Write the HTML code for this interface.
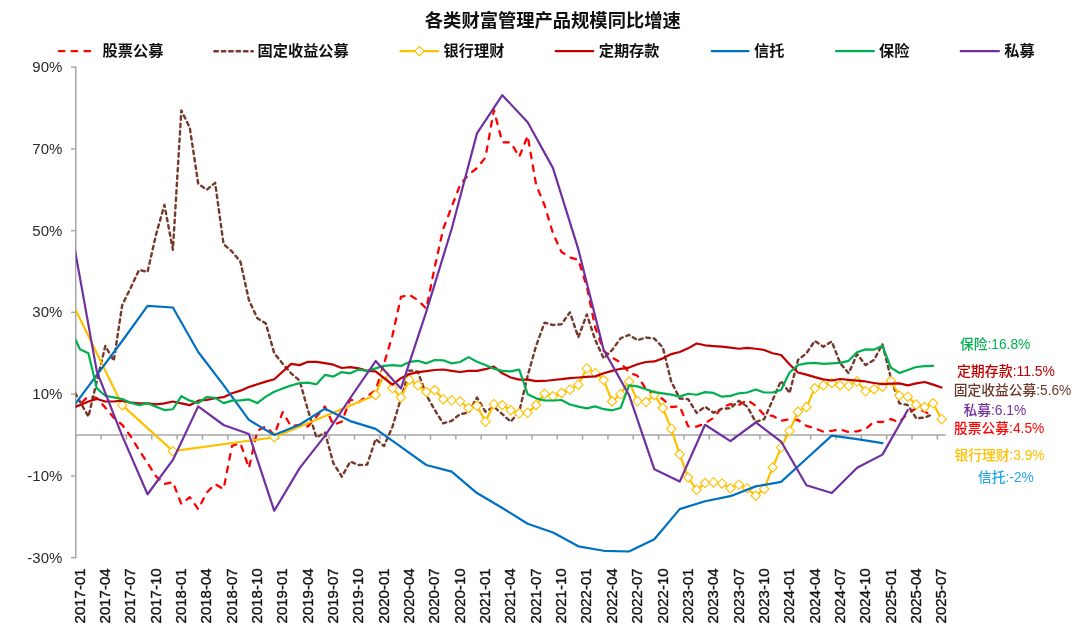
<!DOCTYPE html>
<html lang="zh"><head><meta charset="utf-8"><title>各类财富管理产品规模同比增速</title>
<style>
html,body{margin:0;padding:0;background:#fff;}
body{width:1080px;height:642px;overflow:hidden;position:relative;font-family:"Liberation Sans","Noto Sans CJK SC",sans-serif;}
svg{position:absolute;left:0;top:0;display:block;}
text{font-family:"Liberation Sans","Noto Sans CJK SC",sans-serif;}
.title{font-size:18.3px;font-weight:bold;fill:#111;}
.lg{font-size:15.2px;font-weight:bold;fill:#111;}
.ax{font-size:15px;fill:#111;stroke:#111;stroke-width:0.35px;}
.ay{font-size:15px;fill:#2b2b2b;}
.lb{font-size:13.75px;font-weight:500;}
.s{fill:none;stroke-linejoin:round;stroke-linecap:round;}
</style></head><body>
<svg width="1080" height="642" viewBox="0 0 1080 642">
<rect x="0" y="0" width="1080" height="642" fill="#ffffff"/>
<defs><clipPath id="plot"><rect x="75.75" y="60" width="872.04" height="505"/></clipPath></defs>
<text class="title" x="552.8" y="27.2" text-anchor="middle">各类财富管理产品规模同比增速</text>
<g stroke="#a6a6a6" stroke-width="1.5" fill="none">
<line x1="75.75" y1="66.57" x2="75.75" y2="558.21"/>
<line x1="75.75" y1="435.00" x2="945.79" y2="435.00"/>
<line x1="71.05" y1="557.61" x2="75.75" y2="557.61"/>
<line x1="71.05" y1="475.87" x2="75.75" y2="475.87"/>
<line x1="71.05" y1="394.13" x2="75.75" y2="394.13"/>
<line x1="71.05" y1="312.39" x2="75.75" y2="312.39"/>
<line x1="71.05" y1="230.65" x2="75.75" y2="230.65"/>
<line x1="71.05" y1="148.91" x2="75.75" y2="148.91"/>
<line x1="71.05" y1="67.17" x2="75.75" y2="67.17"/>
<line x1="75.75" y1="435.00" x2="75.75" y2="439.60"/>
<line x1="101.09" y1="435.00" x2="101.09" y2="439.60"/>
<line x1="126.43" y1="435.00" x2="126.43" y2="439.60"/>
<line x1="151.77" y1="435.00" x2="151.77" y2="439.60"/>
<line x1="177.11" y1="435.00" x2="177.11" y2="439.60"/>
<line x1="202.45" y1="435.00" x2="202.45" y2="439.60"/>
<line x1="227.80" y1="435.00" x2="227.80" y2="439.60"/>
<line x1="253.14" y1="435.00" x2="253.14" y2="439.60"/>
<line x1="278.48" y1="435.00" x2="278.48" y2="439.60"/>
<line x1="303.82" y1="435.00" x2="303.82" y2="439.60"/>
<line x1="329.16" y1="435.00" x2="329.16" y2="439.60"/>
<line x1="354.50" y1="435.00" x2="354.50" y2="439.60"/>
<line x1="379.84" y1="435.00" x2="379.84" y2="439.60"/>
<line x1="405.18" y1="435.00" x2="405.18" y2="439.60"/>
<line x1="430.52" y1="435.00" x2="430.52" y2="439.60"/>
<line x1="455.86" y1="435.00" x2="455.86" y2="439.60"/>
<line x1="481.21" y1="435.00" x2="481.21" y2="439.60"/>
<line x1="506.55" y1="435.00" x2="506.55" y2="439.60"/>
<line x1="531.89" y1="435.00" x2="531.89" y2="439.60"/>
<line x1="557.23" y1="435.00" x2="557.23" y2="439.60"/>
<line x1="582.57" y1="435.00" x2="582.57" y2="439.60"/>
<line x1="607.91" y1="435.00" x2="607.91" y2="439.60"/>
<line x1="633.25" y1="435.00" x2="633.25" y2="439.60"/>
<line x1="658.59" y1="435.00" x2="658.59" y2="439.60"/>
<line x1="683.93" y1="435.00" x2="683.93" y2="439.60"/>
<line x1="709.27" y1="435.00" x2="709.27" y2="439.60"/>
<line x1="734.62" y1="435.00" x2="734.62" y2="439.60"/>
<line x1="759.96" y1="435.00" x2="759.96" y2="439.60"/>
<line x1="785.30" y1="435.00" x2="785.30" y2="439.60"/>
<line x1="810.64" y1="435.00" x2="810.64" y2="439.60"/>
<line x1="835.98" y1="435.00" x2="835.98" y2="439.60"/>
<line x1="861.32" y1="435.00" x2="861.32" y2="439.60"/>
<line x1="886.66" y1="435.00" x2="886.66" y2="439.60"/>
<line x1="912.00" y1="435.00" x2="912.00" y2="439.60"/>
<line x1="937.34" y1="435.00" x2="937.34" y2="439.60"/>
</g>
<text class="ay" x="62.4" y="562.61" text-anchor="end">-30%</text>
<text class="ay" x="62.4" y="480.87" text-anchor="end">-10%</text>
<text class="ay" x="62.4" y="399.13" text-anchor="end">10%</text>
<text class="ay" x="62.4" y="317.39" text-anchor="end">30%</text>
<text class="ay" x="62.4" y="235.65" text-anchor="end">50%</text>
<text class="ay" x="62.4" y="153.91" text-anchor="end">70%</text>
<text class="ay" x="62.4" y="72.17" text-anchor="end">90%</text>
<text class="ax" transform="translate(84.67 568.4) rotate(-90)" text-anchor="end">2017-01</text>
<text class="ax" transform="translate(110.01 568.4) rotate(-90)" text-anchor="end">2017-04</text>
<text class="ax" transform="translate(135.36 568.4) rotate(-90)" text-anchor="end">2017-07</text>
<text class="ax" transform="translate(160.70 568.4) rotate(-90)" text-anchor="end">2017-10</text>
<text class="ax" transform="translate(186.04 568.4) rotate(-90)" text-anchor="end">2018-01</text>
<text class="ax" transform="translate(211.38 568.4) rotate(-90)" text-anchor="end">2018-04</text>
<text class="ax" transform="translate(236.72 568.4) rotate(-90)" text-anchor="end">2018-07</text>
<text class="ax" transform="translate(262.06 568.4) rotate(-90)" text-anchor="end">2018-10</text>
<text class="ax" transform="translate(287.40 568.4) rotate(-90)" text-anchor="end">2019-01</text>
<text class="ax" transform="translate(312.74 568.4) rotate(-90)" text-anchor="end">2019-04</text>
<text class="ax" transform="translate(338.08 568.4) rotate(-90)" text-anchor="end">2019-07</text>
<text class="ax" transform="translate(363.42 568.4) rotate(-90)" text-anchor="end">2019-10</text>
<text class="ax" transform="translate(388.77 568.4) rotate(-90)" text-anchor="end">2020-01</text>
<text class="ax" transform="translate(414.11 568.4) rotate(-90)" text-anchor="end">2020-04</text>
<text class="ax" transform="translate(439.45 568.4) rotate(-90)" text-anchor="end">2020-07</text>
<text class="ax" transform="translate(464.79 568.4) rotate(-90)" text-anchor="end">2020-10</text>
<text class="ax" transform="translate(490.13 568.4) rotate(-90)" text-anchor="end">2021-01</text>
<text class="ax" transform="translate(515.47 568.4) rotate(-90)" text-anchor="end">2021-04</text>
<text class="ax" transform="translate(540.81 568.4) rotate(-90)" text-anchor="end">2021-07</text>
<text class="ax" transform="translate(566.15 568.4) rotate(-90)" text-anchor="end">2021-10</text>
<text class="ax" transform="translate(591.49 568.4) rotate(-90)" text-anchor="end">2022-01</text>
<text class="ax" transform="translate(616.83 568.4) rotate(-90)" text-anchor="end">2022-04</text>
<text class="ax" transform="translate(642.18 568.4) rotate(-90)" text-anchor="end">2022-07</text>
<text class="ax" transform="translate(667.52 568.4) rotate(-90)" text-anchor="end">2022-10</text>
<text class="ax" transform="translate(692.86 568.4) rotate(-90)" text-anchor="end">2023-01</text>
<text class="ax" transform="translate(718.20 568.4) rotate(-90)" text-anchor="end">2023-04</text>
<text class="ax" transform="translate(743.54 568.4) rotate(-90)" text-anchor="end">2023-07</text>
<text class="ax" transform="translate(768.88 568.4) rotate(-90)" text-anchor="end">2023-10</text>
<text class="ax" transform="translate(794.22 568.4) rotate(-90)" text-anchor="end">2024-01</text>
<text class="ax" transform="translate(819.56 568.4) rotate(-90)" text-anchor="end">2024-04</text>
<text class="ax" transform="translate(844.90 568.4) rotate(-90)" text-anchor="end">2024-07</text>
<text class="ax" transform="translate(870.24 568.4) rotate(-90)" text-anchor="end">2024-10</text>
<text class="ax" transform="translate(895.59 568.4) rotate(-90)" text-anchor="end">2025-01</text>
<text class="ax" transform="translate(920.93 568.4) rotate(-90)" text-anchor="end">2025-04</text>
<text class="ax" transform="translate(946.27 568.4) rotate(-90)" text-anchor="end">2025-07</text>
<g clip-path="url(#plot)">
<path class="s" d="M71.53 409.25 L79.97 404.35 L88.42 396.17 L96.87 398.22 L105.31 407.62 L113.76 417.83 L122.21 424.78 L130.66 436.23 L139.10 450.12 L147.55 463.00 L156.00 476.28 L164.44 484.04 L172.89 482.00 L181.34 504.07 L189.78 497.12 L198.23 509.18 L206.68 492.63 L215.13 484.04 L223.57 489.15 L232.02 445.83 L240.47 443.17 L248.91 468.10 L257.36 430.71 L265.81 426.42 L274.25 435.00 L282.70 412.11 L291.15 426.42 L299.60 424.78 L308.04 426.42 L316.49 416.61 L324.94 406.39 L333.38 424.99 L341.83 421.51 L350.28 399.44 L358.72 402.30 L367.17 396.17 L375.62 390.45 L384.07 363.48 L392.51 335.28 L400.96 296.86 L409.41 294.82 L417.85 300.13 L426.30 308.71 L434.75 267.02 L443.19 229.02 L451.64 206.95 L460.09 184.88 L468.54 174.66 L476.98 168.12 L485.43 157.49 L493.88 110.08 L502.32 142.37 L510.77 142.37 L519.22 156.88 L527.66 135.83 L536.11 184.88 L544.56 205.31 L553.01 233.51 L561.45 251.90 L569.90 257.42 L578.35 259.87 L586.79 286.64 L595.24 327.51 L603.69 350.81 L612.13 357.51 L620.58 362.50 L629.03 372.47 L637.48 375.74 L645.92 389.23 L654.37 394.13 L662.82 399.16 L671.26 407.00 L679.71 406.39 L688.16 426.34 L696.60 426.66 L705.05 423.35 L713.50 417.83 L721.95 407.49 L730.39 404.18 L738.84 405.00 L747.29 400.02 L755.73 405.82 L764.18 414.97 L772.63 415.79 L781.07 420.82 L789.52 419.18 L797.97 420.00 L806.42 425.85 L814.86 428.34 L823.31 431.65 L831.76 430.83 L840.20 429.48 L848.65 432.02 L857.10 431.32 L865.54 429.16 L873.99 421.68 L882.44 422.00 L890.89 419.18 L899.33 422.17 L907.78 413.34 L916.23 408.31 L924.67 411.70 L933.12 415.79" stroke="#ff0000" stroke-width="2.3" stroke-dasharray="5.5 7.3" stroke-linecap="round"/>
<path class="s" d="M71.53 386.57 L79.97 401.69 L88.42 416.61 L96.87 381.05 L105.31 345.90 L113.76 360.82 L122.21 305.03 L130.66 287.87 L139.10 269.89 L147.55 271.93 L156.00 234.74 L164.44 204.90 L172.89 249.86 L181.34 110.49 L189.78 127.66 L198.23 183.65 L206.68 189.78 L215.13 182.83 L223.57 244.14 L232.02 251.49 L240.47 261.71 L248.91 300.13 L257.36 318.32 L265.81 323.42 L274.25 353.26 L282.70 363.68 L291.15 373.29 L299.60 380.64 L308.04 410.48 L316.49 437.45 L324.94 432.55 L333.38 463.20 L341.83 476.69 L350.28 461.57 L358.72 465.04 L367.17 464.63 L375.62 439.09 L384.07 446.03 L392.51 426.66 L400.96 398.34 L409.41 370.34 L417.85 371.65 L426.30 394.99 L434.75 409.99 L443.19 423.35 L451.64 420.82 L460.09 414.16 L468.54 412.52 L476.98 397.48 L485.43 411.66 L493.88 406.68 L502.32 414.16 L510.77 421.68 L519.22 411.66 L527.66 375.82 L536.11 345.82 L544.56 322.61 L553.01 325.06 L561.45 324.24 L569.90 312.39 L578.35 337.32 L586.79 314.43 L595.24 339.98 L603.69 358.37 L612.13 349.99 L620.58 338.34 L629.03 334.87 L637.48 340.18 L645.92 337.53 L654.37 338.55 L662.82 347.54 L671.26 381.66 L679.71 398.50 L688.16 399.16 L696.60 412.93 L705.05 406.60 L713.50 412.73 L721.95 408.68 L730.39 408.31 L738.84 400.83 L747.29 406.68 L755.73 422.00 L764.18 419.18 L772.63 400.02 L781.07 380.85 L789.52 392.99 L797.97 360.00 L806.42 353.26 L814.86 340.84 L823.31 346.72 L831.76 341.49 L840.20 363.27 L848.65 373.20 L857.10 354.16 L865.54 365.11 L873.99 360.00 L882.44 344.15 L890.89 378.19 L899.33 403.33 L907.78 405.00 L916.23 418.33 L924.67 417.51 L933.12 414.16" stroke="#753a2b" stroke-width="2.4" stroke-dasharray="3.5 3.9" stroke-linecap="round"/>
<path class="s" d="M71.53 301.36 L122.21 405.16 L172.89 451.18 L274.25 437.25 L375.62 394.95 L384.07 373.69 L392.51 388.33 L400.96 397.48 L409.41 379.66 L417.85 385.34 L426.30 392.00 L434.75 390.04 L443.19 399.16 L451.64 400.34 L460.09 401.32 L468.54 408.03 L476.98 405.82 L485.43 421.68 L493.88 404.18 L502.32 405.00 L510.77 410.31 L519.22 413.34 L527.66 412.85 L536.11 405.00 L544.56 393.72 L553.01 396.34 L561.45 392.90 L569.90 389.63 L578.35 384.73 L586.79 368.38 L595.24 372.88 L603.69 380.03 L612.13 401.49 L620.58 394.13 L629.03 381.46 L637.48 401.08 L645.92 402.10 L654.37 394.95 L662.82 408.03 L671.26 428.67 L679.71 454.33 L688.16 477.50 L696.60 489.77 L705.05 483.02 L713.50 482.41 L721.95 483.47 L730.39 488.38 L738.84 484.62 L747.29 488.38 L755.73 495.73 L764.18 488.95 L772.63 467.45 L781.07 447.38 L789.52 430.91 L797.97 411.70 L806.42 407.00 L814.86 388.33 L823.31 385.34 L831.76 383.01 L840.20 385.26 L848.65 385.87 L857.10 381.34 L865.54 391.35 L873.99 389.23 L882.44 386.65 L890.89 380.85 L899.33 395.52 L907.78 396.66 L916.23 404.67 L924.67 407.21 L933.12 403.33 L941.57 419.18" stroke="#ffc000" stroke-width="2.2"/>
<path d="M122.21 400.46 L126.91 405.16 L122.21 409.86 L117.51 405.16 Z" fill="#fff" stroke="#ffc000" stroke-width="1.1"/>
<path d="M172.89 446.48 L177.59 451.18 L172.89 455.88 L168.19 451.18 Z" fill="#fff" stroke="#ffc000" stroke-width="1.1"/>
<path d="M274.25 432.55 L278.95 437.25 L274.25 441.95 L269.55 437.25 Z" fill="#fff" stroke="#ffc000" stroke-width="1.1"/>
<path d="M375.62 390.25 L380.32 394.95 L375.62 399.65 L370.92 394.95 Z" fill="#fff" stroke="#ffc000" stroke-width="1.1"/>
<path d="M384.07 369.00 L388.77 373.69 L384.07 378.39 L379.37 373.69 Z" fill="#fff" stroke="#ffc000" stroke-width="1.1"/>
<path d="M392.51 383.63 L397.21 388.33 L392.51 393.03 L387.81 388.33 Z" fill="#fff" stroke="#ffc000" stroke-width="1.1"/>
<path d="M400.96 392.78 L405.66 397.48 L400.96 402.18 L396.26 397.48 Z" fill="#fff" stroke="#ffc000" stroke-width="1.1"/>
<path d="M409.41 374.96 L414.11 379.66 L409.41 384.36 L404.71 379.66 Z" fill="#fff" stroke="#ffc000" stroke-width="1.1"/>
<path d="M417.85 380.64 L422.55 385.34 L417.85 390.04 L413.15 385.34 Z" fill="#fff" stroke="#ffc000" stroke-width="1.1"/>
<path d="M426.30 387.30 L431.00 392.00 L426.30 396.70 L421.60 392.00 Z" fill="#fff" stroke="#ffc000" stroke-width="1.1"/>
<path d="M434.75 385.34 L439.45 390.04 L434.75 394.74 L430.05 390.04 Z" fill="#fff" stroke="#ffc000" stroke-width="1.1"/>
<path d="M443.19 394.46 L447.89 399.16 L443.19 403.86 L438.49 399.16 Z" fill="#fff" stroke="#ffc000" stroke-width="1.1"/>
<path d="M451.64 395.64 L456.34 400.34 L451.64 405.04 L446.94 400.34 Z" fill="#fff" stroke="#ffc000" stroke-width="1.1"/>
<path d="M460.09 396.62 L464.79 401.32 L460.09 406.02 L455.39 401.32 Z" fill="#fff" stroke="#ffc000" stroke-width="1.1"/>
<path d="M468.54 403.33 L473.24 408.03 L468.54 412.73 L463.84 408.03 Z" fill="#fff" stroke="#ffc000" stroke-width="1.1"/>
<path d="M476.98 401.12 L481.68 405.82 L476.98 410.52 L472.28 405.82 Z" fill="#fff" stroke="#ffc000" stroke-width="1.1"/>
<path d="M485.43 416.98 L490.13 421.68 L485.43 426.38 L480.73 421.68 Z" fill="#fff" stroke="#ffc000" stroke-width="1.1"/>
<path d="M493.88 399.48 L498.58 404.18 L493.88 408.88 L489.18 404.18 Z" fill="#fff" stroke="#ffc000" stroke-width="1.1"/>
<path d="M502.32 400.30 L507.02 405.00 L502.32 409.70 L497.62 405.00 Z" fill="#fff" stroke="#ffc000" stroke-width="1.1"/>
<path d="M510.77 405.61 L515.47 410.31 L510.77 415.01 L506.07 410.31 Z" fill="#fff" stroke="#ffc000" stroke-width="1.1"/>
<path d="M519.22 408.64 L523.92 413.34 L519.22 418.04 L514.52 413.34 Z" fill="#fff" stroke="#ffc000" stroke-width="1.1"/>
<path d="M527.66 408.15 L532.36 412.85 L527.66 417.55 L522.96 412.85 Z" fill="#fff" stroke="#ffc000" stroke-width="1.1"/>
<path d="M536.11 400.30 L540.81 405.00 L536.11 409.70 L531.41 405.00 Z" fill="#fff" stroke="#ffc000" stroke-width="1.1"/>
<path d="M544.56 389.02 L549.26 393.72 L544.56 398.42 L539.86 393.72 Z" fill="#fff" stroke="#ffc000" stroke-width="1.1"/>
<path d="M553.01 391.64 L557.71 396.34 L553.01 401.04 L548.31 396.34 Z" fill="#fff" stroke="#ffc000" stroke-width="1.1"/>
<path d="M561.45 388.20 L566.15 392.90 L561.45 397.60 L556.75 392.90 Z" fill="#fff" stroke="#ffc000" stroke-width="1.1"/>
<path d="M569.90 384.93 L574.60 389.63 L569.90 394.33 L565.20 389.63 Z" fill="#fff" stroke="#ffc000" stroke-width="1.1"/>
<path d="M578.35 380.03 L583.05 384.73 L578.35 389.43 L573.65 384.73 Z" fill="#fff" stroke="#ffc000" stroke-width="1.1"/>
<path d="M586.79 363.68 L591.49 368.38 L586.79 373.08 L582.09 368.38 Z" fill="#fff" stroke="#ffc000" stroke-width="1.1"/>
<path d="M595.24 368.18 L599.94 372.88 L595.24 377.58 L590.54 372.88 Z" fill="#fff" stroke="#ffc000" stroke-width="1.1"/>
<path d="M603.69 375.33 L608.39 380.03 L603.69 384.73 L598.99 380.03 Z" fill="#fff" stroke="#ffc000" stroke-width="1.1"/>
<path d="M612.13 396.79 L616.83 401.49 L612.13 406.19 L607.43 401.49 Z" fill="#fff" stroke="#ffc000" stroke-width="1.1"/>
<path d="M620.58 389.43 L625.28 394.13 L620.58 398.83 L615.88 394.13 Z" fill="#fff" stroke="#ffc000" stroke-width="1.1"/>
<path d="M629.03 376.76 L633.73 381.46 L629.03 386.16 L624.33 381.46 Z" fill="#fff" stroke="#ffc000" stroke-width="1.1"/>
<path d="M637.48 396.38 L642.18 401.08 L637.48 405.78 L632.78 401.08 Z" fill="#fff" stroke="#ffc000" stroke-width="1.1"/>
<path d="M645.92 397.40 L650.62 402.10 L645.92 406.80 L641.22 402.10 Z" fill="#fff" stroke="#ffc000" stroke-width="1.1"/>
<path d="M654.37 390.25 L659.07 394.95 L654.37 399.65 L649.67 394.95 Z" fill="#fff" stroke="#ffc000" stroke-width="1.1"/>
<path d="M662.82 403.33 L667.52 408.03 L662.82 412.73 L658.12 408.03 Z" fill="#fff" stroke="#ffc000" stroke-width="1.1"/>
<path d="M671.26 423.97 L675.96 428.67 L671.26 433.37 L666.56 428.67 Z" fill="#fff" stroke="#ffc000" stroke-width="1.1"/>
<path d="M679.71 449.63 L684.41 454.33 L679.71 459.03 L675.01 454.33 Z" fill="#fff" stroke="#ffc000" stroke-width="1.1"/>
<path d="M688.16 472.80 L692.86 477.50 L688.16 482.20 L683.46 477.50 Z" fill="#fff" stroke="#ffc000" stroke-width="1.1"/>
<path d="M696.60 485.07 L701.30 489.77 L696.60 494.47 L691.90 489.77 Z" fill="#fff" stroke="#ffc000" stroke-width="1.1"/>
<path d="M705.05 478.32 L709.75 483.02 L705.05 487.72 L700.35 483.02 Z" fill="#fff" stroke="#ffc000" stroke-width="1.1"/>
<path d="M713.50 477.71 L718.20 482.41 L713.50 487.11 L708.80 482.41 Z" fill="#fff" stroke="#ffc000" stroke-width="1.1"/>
<path d="M721.95 478.77 L726.65 483.47 L721.95 488.17 L717.25 483.47 Z" fill="#fff" stroke="#ffc000" stroke-width="1.1"/>
<path d="M730.39 483.68 L735.09 488.38 L730.39 493.08 L725.69 488.38 Z" fill="#fff" stroke="#ffc000" stroke-width="1.1"/>
<path d="M738.84 479.92 L743.54 484.62 L738.84 489.32 L734.14 484.62 Z" fill="#fff" stroke="#ffc000" stroke-width="1.1"/>
<path d="M747.29 483.68 L751.99 488.38 L747.29 493.08 L742.59 488.38 Z" fill="#fff" stroke="#ffc000" stroke-width="1.1"/>
<path d="M755.73 491.03 L760.43 495.73 L755.73 500.43 L751.03 495.73 Z" fill="#fff" stroke="#ffc000" stroke-width="1.1"/>
<path d="M764.18 484.25 L768.88 488.95 L764.18 493.65 L759.48 488.95 Z" fill="#fff" stroke="#ffc000" stroke-width="1.1"/>
<path d="M772.63 462.75 L777.33 467.45 L772.63 472.15 L767.93 467.45 Z" fill="#fff" stroke="#ffc000" stroke-width="1.1"/>
<path d="M781.07 442.68 L785.77 447.38 L781.07 452.08 L776.37 447.38 Z" fill="#fff" stroke="#ffc000" stroke-width="1.1"/>
<path d="M789.52 426.21 L794.22 430.91 L789.52 435.61 L784.82 430.91 Z" fill="#fff" stroke="#ffc000" stroke-width="1.1"/>
<path d="M797.97 407.00 L802.67 411.70 L797.97 416.40 L793.27 411.70 Z" fill="#fff" stroke="#ffc000" stroke-width="1.1"/>
<path d="M806.42 402.30 L811.12 407.00 L806.42 411.70 L801.72 407.00 Z" fill="#fff" stroke="#ffc000" stroke-width="1.1"/>
<path d="M814.86 383.63 L819.56 388.33 L814.86 393.03 L810.16 388.33 Z" fill="#fff" stroke="#ffc000" stroke-width="1.1"/>
<path d="M823.31 380.64 L828.01 385.34 L823.31 390.04 L818.61 385.34 Z" fill="#fff" stroke="#ffc000" stroke-width="1.1"/>
<path d="M831.76 378.31 L836.46 383.01 L831.76 387.71 L827.06 383.01 Z" fill="#fff" stroke="#ffc000" stroke-width="1.1"/>
<path d="M840.20 380.56 L844.90 385.26 L840.20 389.96 L835.50 385.26 Z" fill="#fff" stroke="#ffc000" stroke-width="1.1"/>
<path d="M848.65 381.17 L853.35 385.87 L848.65 390.57 L843.95 385.87 Z" fill="#fff" stroke="#ffc000" stroke-width="1.1"/>
<path d="M857.10 376.64 L861.80 381.34 L857.10 386.04 L852.40 381.34 Z" fill="#fff" stroke="#ffc000" stroke-width="1.1"/>
<path d="M865.54 386.65 L870.24 391.35 L865.54 396.05 L860.84 391.35 Z" fill="#fff" stroke="#ffc000" stroke-width="1.1"/>
<path d="M873.99 384.53 L878.69 389.23 L873.99 393.93 L869.29 389.23 Z" fill="#fff" stroke="#ffc000" stroke-width="1.1"/>
<path d="M882.44 381.95 L887.14 386.65 L882.44 391.35 L877.74 386.65 Z" fill="#fff" stroke="#ffc000" stroke-width="1.1"/>
<path d="M890.89 376.15 L895.59 380.85 L890.89 385.55 L886.19 380.85 Z" fill="#fff" stroke="#ffc000" stroke-width="1.1"/>
<path d="M899.33 390.82 L904.03 395.52 L899.33 400.22 L894.63 395.52 Z" fill="#fff" stroke="#ffc000" stroke-width="1.1"/>
<path d="M907.78 391.96 L912.48 396.66 L907.78 401.36 L903.08 396.66 Z" fill="#fff" stroke="#ffc000" stroke-width="1.1"/>
<path d="M916.23 399.97 L920.93 404.67 L916.23 409.37 L911.53 404.67 Z" fill="#fff" stroke="#ffc000" stroke-width="1.1"/>
<path d="M924.67 402.51 L929.37 407.21 L924.67 411.91 L919.97 407.21 Z" fill="#fff" stroke="#ffc000" stroke-width="1.1"/>
<path d="M933.12 398.63 L937.82 403.33 L933.12 408.03 L928.42 403.33 Z" fill="#fff" stroke="#ffc000" stroke-width="1.1"/>
<path d="M941.57 414.48 L946.27 419.18 L941.57 423.88 L936.87 419.18 Z" fill="#fff" stroke="#ffc000" stroke-width="1.1"/>
<path class="s" d="M71.53 407.62 L79.97 405.16 L88.42 401.49 L96.87 399.03 L105.31 401.49 L113.76 401.49 L122.21 400.67 L130.66 402.71 L139.10 403.33 L147.55 403.33 L156.00 404.35 L164.44 403.33 L172.89 401.49 L181.34 403.33 L189.78 405.16 L198.23 400.67 L206.68 399.85 L215.13 398.22 L223.57 397.20 L232.02 393.31 L240.47 390.66 L248.91 386.98 L257.36 384.32 L265.81 381.66 L274.25 379.21 L282.70 371.65 L291.15 363.89 L299.60 365.11 L308.04 361.84 L316.49 361.84 L324.94 363.07 L333.38 364.70 L341.83 367.97 L350.28 367.16 L358.72 368.38 L367.17 370.83 L375.62 371.45 L384.07 378.19 L392.51 384.73 L400.96 378.19 L409.41 374.10 L417.85 372.06 L426.30 371.16 L434.75 370.02 L443.19 369.49 L451.64 370.83 L460.09 372.02 L468.54 370.83 L476.98 370.83 L485.43 369.20 L493.88 366.67 L502.32 373.33 L510.77 377.50 L519.22 379.66 L527.66 379.66 L536.11 381.17 L544.56 380.97 L553.01 380.03 L561.45 379.21 L569.90 378.19 L578.35 377.50 L586.79 376.96 L595.24 376.35 L603.69 373.29 L612.13 370.83 L620.58 368.79 L629.03 367.56 L637.48 364.29 L645.92 362.01 L654.37 361.43 L662.82 358.37 L671.26 354.08 L679.71 352.03 L688.16 348.36 L696.60 343.45 L705.05 345.29 L713.50 346.07 L721.95 346.72 L730.39 347.54 L738.84 348.76 L747.29 347.82 L755.73 348.76 L764.18 349.99 L772.63 353.26 L781.07 355.02 L789.52 364.17 L797.97 372.47 L806.42 374.68 L814.86 377.17 L823.31 379.34 L831.76 380.52 L840.20 379.01 L848.65 379.83 L857.10 380.64 L865.54 381.46 L873.99 383.01 L882.44 384.16 L890.89 383.67 L899.33 383.34 L907.78 385.34 L916.23 383.34 L924.67 381.99 L933.12 384.65 L941.57 387.51" stroke="#c00000" stroke-width="2.2"/>
<path class="s" d="M71.53 409.05 L96.87 374.92 L122.21 341.00 L147.55 305.85 L172.89 307.49 L198.23 352.03 L223.57 385.14 L248.91 419.88 L274.25 435.00 L299.60 424.78 L324.94 408.64 L350.28 421.10 L375.62 428.87 L400.96 446.85 L426.30 465.00 L451.64 471.66 L476.98 493.04 L502.32 507.99 L527.66 523.69 L553.01 532.52 L578.35 546.33 L603.69 550.78 L629.03 551.48 L654.37 539.22 L679.71 509.10 L705.05 501.21 L730.39 496.18 L755.73 486.37 L781.07 481.92 L806.42 458.70 L831.76 435.57 L857.10 439.09 L882.44 443.17" stroke="#0070c0" stroke-width="2.2"/>
<path class="s" d="M71.53 331.19 L79.97 349.17 L88.42 353.26 L96.87 388.41 L105.31 395.76 L113.76 397.40 L122.21 399.03 L130.66 402.71 L139.10 405.16 L147.55 403.33 L156.00 406.80 L164.44 410.07 L172.89 409.25 L181.34 396.17 L189.78 400.67 L198.23 403.12 L206.68 396.99 L215.13 397.81 L223.57 403.12 L232.02 400.67 L240.47 400.46 L248.91 399.44 L257.36 403.12 L265.81 396.58 L274.25 391.68 L282.70 388.41 L291.15 385.55 L299.60 383.10 L308.04 382.69 L316.49 384.32 L324.94 374.92 L333.38 376.56 L341.83 372.06 L350.28 373.29 L358.72 369.61 L367.17 370.83 L375.62 368.38 L384.07 365.93 L392.51 365.11 L400.96 365.93 L409.41 361.92 L417.85 360.82 L426.30 363.35 L434.75 360.00 L443.19 360.33 L451.64 363.35 L460.09 362.01 L468.54 357.14 L476.98 361.68 L485.43 364.99 L493.88 368.67 L502.32 370.83 L510.77 371.32 L519.22 369.65 L527.66 394.17 L536.11 398.34 L544.56 400.42 L553.01 400.51 L561.45 400.02 L569.90 404.55 L578.35 406.68 L586.79 408.31 L595.24 406.39 L603.69 409.17 L612.13 410.31 L620.58 408.03 L629.03 385.34 L637.48 386.36 L645.92 389.23 L654.37 392.09 L662.82 393.31 L671.26 394.66 L679.71 396.66 L688.16 393.72 L696.60 394.74 L705.05 392.09 L713.50 392.90 L721.95 396.66 L730.39 395.85 L738.84 393.31 L747.29 392.50 L755.73 389.51 L764.18 392.50 L772.63 392.50 L781.07 390.04 L789.52 372.47 L797.97 364.99 L806.42 363.35 L814.86 362.82 L823.31 363.89 L831.76 363.35 L840.20 362.82 L848.65 360.82 L857.10 352.24 L865.54 349.38 L873.99 349.66 L882.44 345.82 L890.89 367.56 L899.33 373.00 L907.78 370.02 L916.23 366.99 L924.67 366.17 L933.12 365.85" stroke="#00b050" stroke-width="2.2"/>
<path class="s" d="M71.53 231.06 L96.87 371.65 L122.21 435.82 L147.55 494.26 L172.89 459.93 L198.23 406.39 L223.57 424.99 L248.91 433.98 L274.25 510.81 L299.60 468.10 L324.94 435.82 L350.28 398.01 L375.62 361.03 L400.96 388.41 L426.30 311.57 L451.64 229.02 L476.98 133.38 L502.32 95.17 L527.66 122.34 L553.01 168.12 L578.35 249.45 L603.69 349.99 L629.03 394.95 L654.37 469.33 L679.71 481.59 L705.05 424.78 L730.39 441.13 L755.73 422.49 L781.07 441.54 L806.42 485.27 L831.76 493.04 L857.10 467.70 L882.44 454.62 L907.78 409.99" stroke="#7030a0" stroke-width="2.2"/>
</g>
<line x1="58.9" y1="51.20" x2="96.2" y2="51.20" stroke="#ff0000" stroke-width="2.3" stroke-dasharray="5.5 7.3" stroke-linecap="round"/>
<text class="lg" x="102.60" y="56.30">股票公募</text>
<line x1="214.4" y1="51.20" x2="252.8" y2="51.20" stroke="#753a2b" stroke-width="2.4" stroke-dasharray="3.5 3.9" stroke-linecap="round"/>
<text class="lg" x="257.60" y="56.30">固定收益公募</text>
<line x1="400.4" y1="51.20" x2="438.2" y2="51.20" stroke="#ffc000" stroke-width="2.2" stroke-linecap="round"/>
<path d="M419.4 46.50 l4.7 4.7 l-4.7 4.7 l-4.7 -4.7 Z" fill="#fff" stroke="#ffc000" stroke-width="1.1"/>
<text class="lg" x="443.60" y="56.30">银行理财</text>
<line x1="555.7" y1="51.20" x2="593.2" y2="51.20" stroke="#c00000" stroke-width="2.2" stroke-linecap="round"/>
<text class="lg" x="598.70" y="56.30">定期存款</text>
<line x1="711.7" y1="51.20" x2="748.5" y2="51.20" stroke="#0070c0" stroke-width="2.2" stroke-linecap="round"/>
<text class="lg" x="754.00" y="56.30">信托</text>
<line x1="836" y1="51.20" x2="873.8" y2="51.20" stroke="#00b050" stroke-width="2.2" stroke-linecap="round"/>
<text class="lg" x="879.00" y="56.30">保险</text>
<line x1="960.7" y1="51.20" x2="998.9" y2="51.20" stroke="#7030a0" stroke-width="2.2" stroke-linecap="round"/>
<text class="lg" x="1004.20" y="56.30">私募</text>
<text class="lb" x="960.00" y="348.60" fill="#00b050">保险:16.8%</text>
<text class="lb" x="956.90" y="375.90" fill="#c00000" style="font-size:13.95px">定期存款:11.5%</text>
<text class="lb" x="953.70" y="395.20" fill="#6b382b">固定收益公募:5.6%</text>
<text class="lb" x="963.50" y="415.20" fill="#7030a0">私募:6.1%</text>
<text class="lb" x="954.10" y="432.80" fill="#ff0000">股票公募:4.5%</text>
<text class="lb" x="954.40" y="460.10" fill="#ffc000">银行理财:3.9%</text>
<text class="lb" x="978.00" y="481.90" fill="#1ea7e8">信托:-2%</text>
</svg></body></html>
